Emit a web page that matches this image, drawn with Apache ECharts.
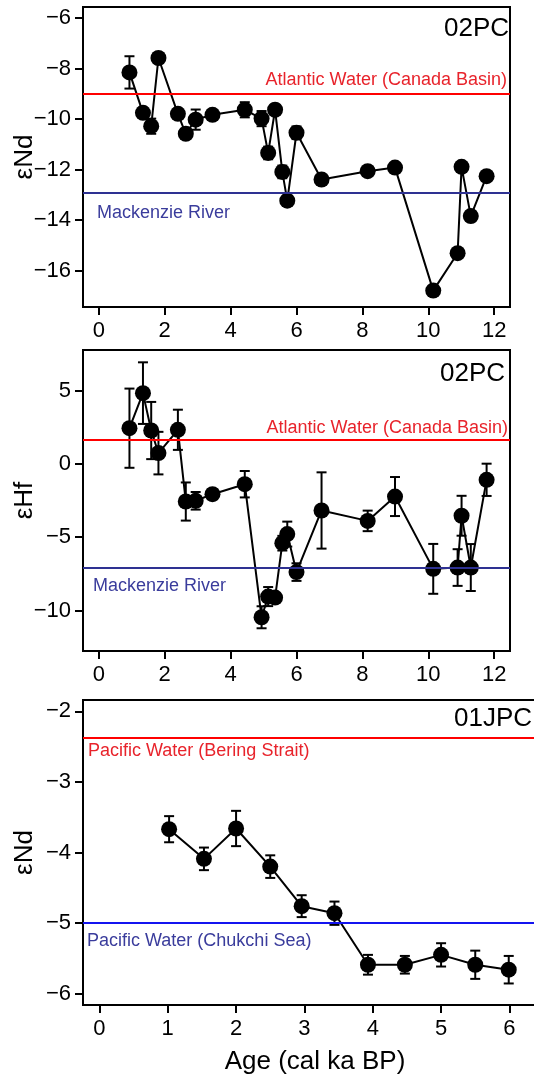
<!DOCTYPE html>
<html>
<head>
<meta charset="utf-8">
<script src="https://cdn.jsdelivr.net/npm/echarts@6/dist/echarts.min.js"></script>
<style>
  html, body { margin: 0; padding: 0; background: #fff; }
  #chart { width: 534px; height: 1076px; }
</style>
</head>
<body>
<div id="chart"></div>
<script>
// Core 02PC: ages (cal ka BP) shared by the εNd and εHf records
const age02 = [0.93, 1.34, 1.59, 1.81, 2.40, 2.64, 2.94, 3.45, 4.43, 4.94, 5.14, 5.35,
               5.57, 5.72, 6.00, 6.76, 8.16, 8.99, 10.15, 10.89, 11.01, 11.29, 11.77];
const nd02 = [-8.15, -9.75, -10.28, -7.58, -9.79, -10.58, -10.02, -9.83, -9.63, -9.98, -11.34, -9.63,
              -12.09, -13.23, -10.54, -12.39, -12.06, -11.92, -16.79, -15.31, -11.89, -13.84, -12.26];
const nd02Err = [0.64, 0.2, 0.3, 0.15, 0.2, 0.2, 0.4, 0.2, 0.3, 0.3, 0.25, 0.2,
                 0.25, 0.2, 0.25, 0.15, 0.15, 0.15, 0.15, 0.15, 0.15, 0.2, 0.15];
const hf02 = [2.43, 4.82, 2.27, 0.73, 2.32, -2.57, -2.52, -2.07, -1.39, -10.46, -9.05, -9.12,
              -5.41, -4.79, -7.38, -3.18, -3.89, -2.23, -7.16, -7.07, -3.54, -7.07, -1.09];
const hf02Err = [2.7, 2.1, 1.95, 1.45, 1.37, 1.3, 0.6, 0.35, 0.9, 0.75, 0.65, 0.3,
                 0.5, 0.85, 0.6, 2.6, 0.7, 1.33, 1.7, 1.25, 1.36, 1.6, 1.1];

// Core 01JPC εNd record
const age01 = [1.02, 1.53, 2.00, 2.50, 2.96, 3.44, 3.93, 4.47, 5.00, 5.50, 5.99];
const nd01 = [-3.67, -4.09, -3.66, -4.20, -4.76, -4.86, -5.59, -5.59, -5.45, -5.59, -5.66];
const nd01Err = [0.185, 0.16, 0.25, 0.16, 0.155, 0.165, 0.14, 0.125, 0.165, 0.2, 0.195];

// End-member reference values
const atlanticNd = -9.0;
const mackenzieNd = -12.9;
const atlanticHf = 1.64;
const mackenzieHf = -7.1;
const beringNd = -2.38;
const chukchiNd = -5.0;

// Tick values
const xTicks02 = [0, 2, 4, 6, 8, 10, 12];
const xTicks01 = [0, 1, 2, 3, 4, 5, 6];
const yTicksNd02 = [-16, -14, -12, -10, -8, -6];
const yTicksHf02 = [-10, -5, 0, 5];
const yTicksNd01 = [-6, -5, -4, -3, -2];

const FONT = '"Liberation Sans", Arial, Helvetica, sans-serif';
const RED = '#ff0000';
const RED_TEXT = '#e8232b';
const NAVY = '#2e3192';
const BLUE = '#1414f0';
const BLUE_TEXT = '#3a3c9c';

const zip3 = (xs, ys, es) => xs.map((x, i) => [x, ys[i], es[i]]);
const zip2 = (xs, ys) => xs.map((x, i) => [x, ys[i]]);

function errorBars(params, api) {
  const x = api.value(0), y = api.value(1), e = api.value(2);
  const hi = api.coord([x, y + e]);
  const lo = api.coord([x, y - e]);
  const cap = 5;
  const st = { stroke: '#000', lineWidth: 2 };
  return {
    type: 'group',
    children: [
      { type: 'line', shape: { x1: hi[0], y1: hi[1], x2: lo[0], y2: lo[1] }, style: st },
      { type: 'line', shape: { x1: hi[0] - cap, y1: hi[1], x2: hi[0] + cap, y2: hi[1] }, style: st },
      { type: 'line', shape: { x1: lo[0] - cap, y1: lo[1], x2: lo[0] + cap, y2: lo[1] }, style: st }
    ]
  };
}

function refLine(value, color, text, textColor, position, distance) {
  return {
    yAxis: value,
    lineStyle: { color: color, width: 2, type: 'solid' },
    label: {
      show: true, position: position, formatter: text, color: textColor,
      fontSize: 18, fontFamily: FONT, distance: distance
    }
  };
}

const gridBase = {
  show: true, borderColor: '#000', borderWidth: 2, backgroundColor: 'transparent',
  containLabel: false, outerBoundsMode: 'none'
};
const grids = [
  Object.assign({ left: 83, top: 7, width: 427, height: 300 }, gridBase),
  Object.assign({ left: 83, top: 350, width: 427, height: 301 }, gridBase),
  Object.assign({ left: 83, top: 700, width: 464, height: 305 }, gridBase)
];

function xAxisCfg(gi, min, max, ticks, name) {
  return {
    type: 'value', gridIndex: gi, min: min, max: max, position: 'bottom',
    axisLine: { show: false, onZero: false },
    splitLine: { show: false },
    axisTick: { show: true, inside: false, length: 8, customValues: ticks, lineStyle: { color: '#000', width: 2 } },
    axisLabel: { customValues: ticks, margin: 13, fontSize: 22, color: '#000', fontFamily: FONT },
    name: name || '', nameLocation: 'middle', nameGap: 44, nameMoveOverlap: false,
    nameTextStyle: { fontSize: 26, color: '#000', fontFamily: FONT }
  };
}

function yAxisCfg(gi, min, max, ticks, name) {
  return {
    type: 'value', gridIndex: gi, min: min, max: max, position: 'left',
    axisLine: { show: false, onZero: false },
    splitLine: { show: false },
    axisTick: { show: true, inside: false, length: 8, customValues: ticks, lineStyle: { color: '#000', width: 2 } },
    axisLabel: {
      customValues: ticks, margin: 12, fontSize: 22, color: '#000', fontFamily: FONT,
      formatter: v => (v < 0 ? '\u2212' + Math.abs(v) : String(v))
    },
    name: name, nameLocation: 'middle', nameGap: 45, nameRotate: 90, nameMoveOverlap: false,
    nameTextStyle: { fontSize: 26, color: '#000', fontFamily: FONT }
  };
}

function dataSeries(gi, xs, ys, marks) {
  return {
    type: 'line', xAxisIndex: gi, yAxisIndex: gi,
    data: zip2(xs, ys),
    symbol: 'circle', symbolSize: 16,
    itemStyle: { color: '#000' },
    lineStyle: { color: '#000', width: 2 },
    z: 3,
    markLine: { symbol: 'none', silent: true, animation: false, data: marks }
  };
}

function errSeries(gi, xs, ys, es) {
  return {
    type: 'custom', xAxisIndex: gi, yAxisIndex: gi,
    data: zip3(xs, ys, es), encode: { x: 0, y: 1 },
    renderItem: errorBars, z: 2
  };
}

const titleStyle = { fontSize: 26, fontWeight: 'normal', color: '#000', fontFamily: FONT };

const option = {
  animation: false,
  backgroundColor: '#fff',
  title: [
    { text: '02PC', right: 25, top: 16, padding: 0, textStyle: titleStyle },
    { text: '02PC', right: 29, top: 361, padding: 0, textStyle: titleStyle },
    { text: '01JPC', right: 2, top: 706, padding: 0, textStyle: titleStyle }
  ],
  grid: grids,
  xAxis: [
    xAxisCfg(0, -0.48, 12.48, xTicks02),
    xAxisCfg(1, -0.48, 12.48, xTicks02),
    xAxisCfg(2, -0.24, 6.55, xTicks01, 'Age (cal ka BP)')
  ],
  yAxis: [
    yAxisCfg(0, -17.44, -5.56, yTicksNd02, '\u03b5Nd'),
    yAxisCfg(1, -12.76, 7.76, yTicksHf02, '\u03b5Hf'),
    yAxisCfg(2, -6.16, -1.84, yTicksNd01, '\u03b5Nd')
  ],
  series: [
    errSeries(0, age02, nd02, nd02Err),
    dataSeries(0, age02, nd02, [
      refLine(atlanticNd, RED, 'Atlantic Water (Canada Basin)', RED_TEXT, 'insideEndTop', [3, 5]),
      refLine(mackenzieNd, NAVY, 'Mackenzie River', BLUE_TEXT, 'insideStartBottom', [14, 12])
    ]),
    errSeries(1, age02, hf02, hf02Err),
    dataSeries(1, age02, hf02, [
      refLine(atlanticHf, RED, 'Atlantic Water (Canada Basin)', RED_TEXT, 'insideEndTop', [2, 3]),
      refLine(mackenzieHf, NAVY, 'Mackenzie River', BLUE_TEXT, 'insideStartBottom', [10, 9])
    ]),
    errSeries(2, age01, nd01, nd01Err),
    dataSeries(2, age01, nd01, [
      refLine(beringNd, RED, 'Pacific Water (Bering Strait)', RED_TEXT, 'insideStartBottom', [5, 4]),
      refLine(chukchiNd, BLUE, 'Pacific Water (Chukchi Sea)', BLUE_TEXT, 'insideStartBottom', [4, 9])
    ])
  ]
};

const chart = echarts.init(document.getElementById('chart'), null, { renderer: 'canvas' });
chart.setOption(option);
</script>
</body>
</html>
